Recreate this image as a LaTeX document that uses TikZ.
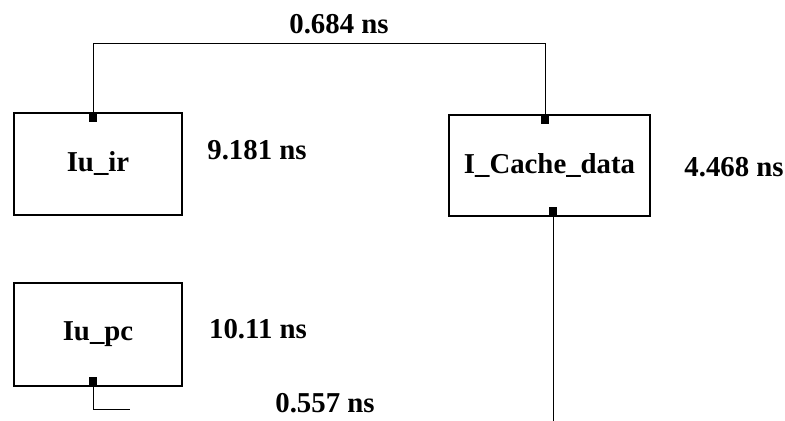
\documentclass[tikz,border=0pt]{standalone}
\usepackage{fontspec}
\setmainfont{Liberation Serif}
\usetikzlibrary{positioning}

\tikzset{
    blk/.style={draw, line width=0.6pt, inner sep=0pt, font=\fontsize{14.4}{17}\selectfont\bfseries},
    port/.style={fill=black, inner sep=0pt, minimum size=4.2pt},
    lbl/.style={font=\fontsize{14.4}{17}\selectfont\bfseries},
    wire/.style={line width=0.5pt}
}

\begin{document}
\begin{tikzpicture}[x=0.5pt, y=-0.5pt]
        \useasboundingbox (0,0) rectangle (785,421);
        % blocks
        \node[blk, minimum width=84pt, minimum height=51pt] (ir) at (98,164) {Iu\_ir};
        \node[blk, minimum width=100.5pt, minimum height=50.5pt] (cache) at (549.5,165.5) {I\_Cache\_data};
        \node[blk, minimum width=84pt, minimum height=51.5pt] (pc) at (98,334.5) {Iu\_pc};
        % ports
        \node[port, anchor=north] (irin) at (93,113) {};
        \node[port, anchor=north] (cachein) at (545,115) {};
        \node[port, anchor=south] (cacheout) at (553,216) {};
        \node[port, anchor=south] (pcout) at (93,386) {};
        \coordinate (cacheend) at (553,421);
        \coordinate (pcend) at (130,409);
        % wires
        \draw[wire] (irin.north) -- ++(0,-69) -| (cachein.north);
        \draw[wire] (cacheout.south) -- (cacheend);
        \draw[wire] (pcout.south) |- (pcend);
        % delays
        \node[lbl] (d1) at (339,24) {0.684 ns};
        \node[lbl] (d2) at (257,150) {9.181 ns};
        \node[lbl] (d3) at (734,167) {4.468 ns};
        \node[lbl] (d4) at (258,329) {10.11 ns};
        \node[lbl] (d5) at (325,403) {0.557 ns};
    \end{tikzpicture}
\end{document}
